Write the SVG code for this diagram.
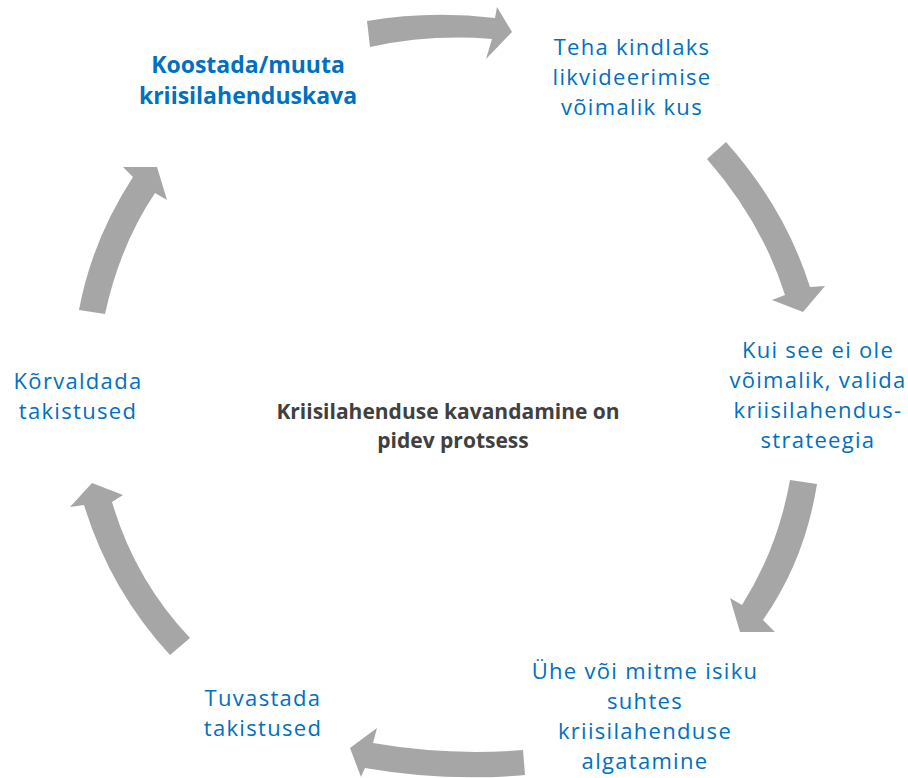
<svg xmlns="http://www.w3.org/2000/svg" width="908" height="778" viewBox="0 0 908 778">
<style>
.t{font-family:"Open Sans",Lato,"Liberation Sans",sans-serif;font-size:22px;letter-spacing:1.3px;fill:#0070C0;text-anchor:middle}
.b{font-weight:bold;font-size:23px;letter-spacing:0}
.c{font-family:"Open Sans",Lato,"Liberation Sans",sans-serif;font-size:21px;font-weight:bold;fill:#404040;text-anchor:middle}
.a{fill:#A6A6A6}
</style>
<rect width="908" height="778" fill="#fff"/>
<g id="connectors">
<path class="a" d="M367,21 Q430,10 495,18 L497,7 L512,32 L486,59 L492,39 Q430,34 370,47 Z"/>
<path class="a" d="M707,159 L726,142 Q785,208 810,287 L825,286 L803,312 L772,300 L785,295 Q762,222 707,159 Z"/>
<path class="a" d="M790,480 L817,484 Q805,560 763,620 L775,632 L740,632 L730,598 L742,605 Q778,548 790,480 Z"/>
<path class="a" d="M525,775 L523,750 Q448,756 373,743 L377,728 L350,748 L361,777 L365,768 Q445,782 525,775 Z"/>
<path class="a" d="M170,655 L190,638 Q135,580 112,502 L123,495 L92,483 L70,507 L84,505 Q110,590 170,655 Z"/>
<path class="a" d="M79,310 L105,314 Q120,245 155,193 L167,200 L157,167 L123,167 L133,177 Q92,240 79,310 Z"/>
</g>
<g id="node-koostada">
<text class="t b" x="248" y="73">Koostada/muuta</text>
<text class="t b" x="248" y="104">kriisilahenduskava</text>
</g>
<g id="node-teha">
<text class="t" x="632" y="55">Teha kindlaks</text>
<text class="t" x="632" y="85">likvideerimise</text>
<text class="t" x="632" y="115">võimalik kus</text>
</g>
<g id="node-kui">
<text class="t" x="818" y="358">Kui see ei ole</text>
<text class="t" x="818" y="388">võimalik, valida</text>
<text class="t" x="818" y="418">kriisilahendus-</text>
<text class="t" x="818" y="448">strateegia</text>
</g>
<g id="node-uhe">
<text class="t" x="645" y="679">Ühe või mitme isiku</text>
<text class="t" x="645" y="709">suhtes</text>
<text class="t" x="645" y="739">kriisilahenduse</text>
<text class="t" x="645" y="769">algatamine</text>
</g>
<g id="node-tuvastada">
<text class="t" x="263" y="706">Tuvastada</text>
<text class="t" x="263" y="736">takistused</text>
</g>
<g id="node-korvaldada">
<text class="t" x="78" y="389">Kõrvaldada</text>
<text class="t" x="78" y="419">takistused</text>
</g>
<g id="center">
<text class="c" x="448" y="419">Kriisilahenduse kavandamine on</text>
<text class="c" x="453" y="448">pidev protsess</text>
</g>
</svg>
